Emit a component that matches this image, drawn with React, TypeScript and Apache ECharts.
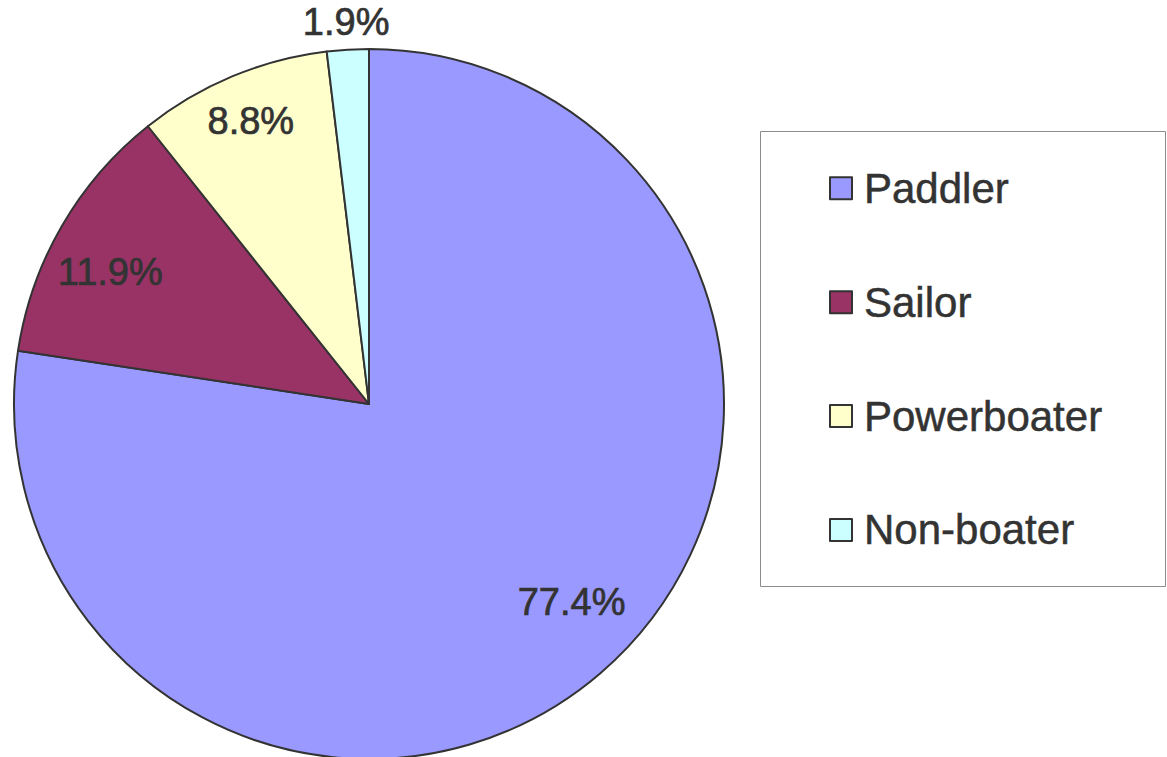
import React, { useEffect, useRef } from 'react';
import * as echarts from 'echarts';

const categories = ['Paddler', 'Sailor', 'Powerboater', 'Non-boater'];
const values = [77.4, 11.9, 8.8, 1.9];
const colors = ['#9999FF', '#993366', '#FFFFCC', '#CCFFFF'];
// label placement (fraction of radius, angular shift in degrees)
const labelRadius = [0.79, 0.81, 0.855, 1.07];
const labelAngleShift = [-5, -3, 0, 0];

const CX = 369;
const CY = 404;
const R = 355;
const FONT = "'Liberation Sans', Arial, sans-serif";

export default function App() {
  const ref = useRef<HTMLDivElement>(null);
  useEffect(() => {
    const chart = echarts.init(ref.current!, null, { renderer: 'svg' });
    const total = values.reduce((a, b) => a + b, 0);
    const mids: number[] = [];
    let acc = 0;
    values.forEach((v) => {
      mids.push(((acc + v / 2) / total) * 360);
      acc += v;
    });
    chart.setOption({
      animation: false,
      backgroundColor: '#ffffff',
      graphic: [
        {
          type: 'rect',
          z: 0,
          shape: { x: 760.5, y: 131.5, width: 405, height: 455 },
          style: { fill: '#ffffff', stroke: '#8c8c8c', lineWidth: 1 },
        },
      ],
      legend: {
        orient: 'vertical',
        left: 829,
        top: 167,
        padding: 0,
        itemWidth: 22,
        itemHeight: 22,
        itemGap: 71.4,
        icon: 'rect',
        selectedMode: false,
        itemStyle: { borderColor: '#333333', borderWidth: 2 },
        textStyle: {
          fontSize: 42,
          lineHeight: 42,
          fontFamily: FONT,
          color: '#333333',
          textBorderColor: '#333333',
          textBorderWidth: 0.5,
          padding: [0, 0, 0, 7],
        },
        data: categories,
      },
      series: [
        {
          type: 'pie',
          center: [CX, CY],
          radius: [0, R],
          startAngle: 90,
          clockwise: true,
          avoidLabelOverlap: false,
          emphasis: { disabled: true },
          data: categories.map((n, i) => ({
            name: n,
            value: values[i],
            itemStyle: { color: colors[i] },
          })),
          itemStyle: { borderColor: '#333333', borderWidth: 2 },
          label: {
            show: true,
            position: 'inside',
            formatter: (p: any) => p.value.toFixed(1) + '%',
            color: '#333333',
            fontSize: 38,
            fontFamily: FONT,
            textBorderColor: '#333333',
            textBorderWidth: 0.7,
          },
          labelLine: { show: false },
          labelLayout: (p: any) => {
            const i = p.dataIndex;
            const t1 = (mids[i] * Math.PI) / 180;
            const t2 = ((mids[i] + labelAngleShift[i]) * Math.PI) / 180;
            const k = labelRadius[i];
            const dx = k * R * Math.sin(t2) - 0.5 * R * Math.sin(t1);
            const dy = -k * R * Math.cos(t2) + 0.5 * R * Math.cos(t1);
            return { dx, dy };
          },
        },
      ],
    });
    return () => chart.dispose();
  }, []);
  return (
    <div
      ref={ref}
      style={{ position: 'absolute', left: 0, top: 0, width: 1167, height: 757 }}
    />
  );
}
